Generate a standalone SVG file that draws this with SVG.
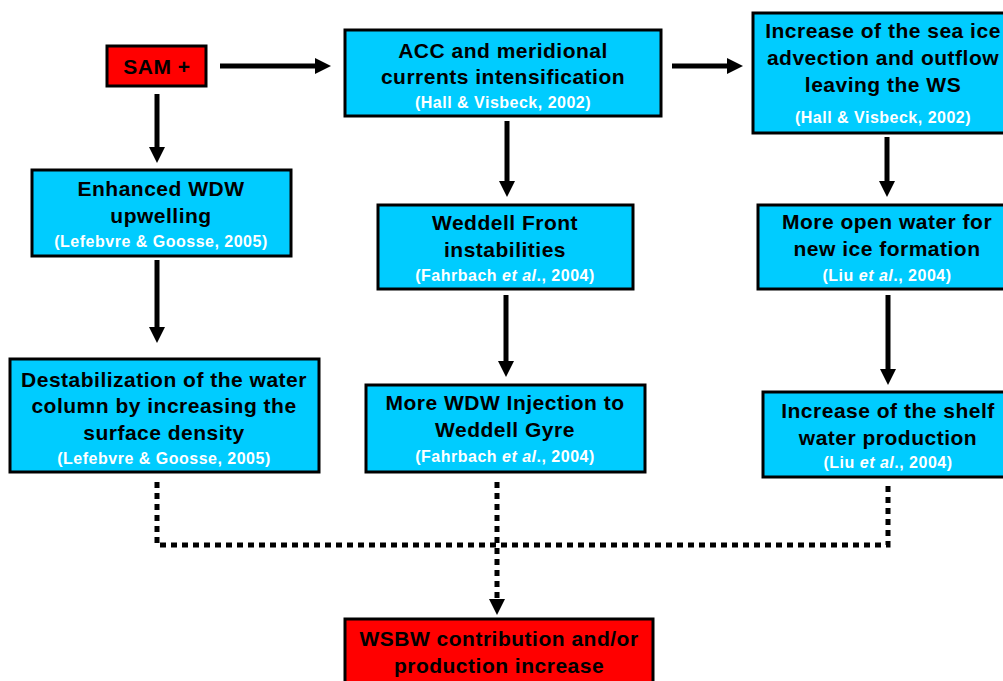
<svg xmlns="http://www.w3.org/2000/svg" width="1003" height="681" viewBox="0 0 1003 681">
<defs>
<marker id="ah" markerUnits="userSpaceOnUse" markerWidth="17" markerHeight="17" refX="1" refY="8" orient="auto">
<path d="M0,0 L16,8 L0,16 z" fill="#000"/>
</marker>
<style>
.box{fill:#00CCFF;stroke:#000;stroke-width:3}
.red{fill:#FF0000;stroke:#000;stroke-width:3}
.t{font-family:"Liberation Sans",Arial,sans-serif;font-weight:bold;font-size:21px;letter-spacing:0.5px;fill:#000;text-anchor:middle}
.c{font-family:"Liberation Sans",Arial,sans-serif;font-weight:bold;font-size:16px;letter-spacing:0.5px;fill:#fff;text-anchor:middle}
.a{fill:none;stroke:#000;stroke-width:5;marker-end:url(#ah)}
.d{fill:none;stroke:#000;stroke-width:5;stroke-dasharray:6 5}
</style>
</defs>
<rect width="1003" height="681" fill="#fff"/>
<g id="connectors">
<line class="a" x1="220" y1="66" x2="316" y2="66"/>
<line class="a" x1="672" y1="66" x2="728" y2="66"/>
<line class="a" x1="157" y1="94" x2="157" y2="148"/>
<line class="a" x1="157" y1="260" x2="157" y2="328"/>
<line class="a" x1="507" y1="121" x2="507" y2="182"/>
<line class="a" x1="506" y1="295" x2="506" y2="362"/>
<line class="a" x1="887" y1="137" x2="887" y2="182"/>
<line class="a" x1="888" y1="295" x2="888" y2="370"/>
<path class="d" d="M157,482 V545 H888 V482"/>
<path class="d" d="M497,482 V600"/>
<path d="M489,599 L505,599 L497,615 z" fill="#000"/>
</g>
<g id="sam">
<rect class="red" x="107" y="46" width="99" height="40"/>
<text class="t" x="157" y="74">SAM +</text>
</g>
<g id="acc">
<rect class="box" x="345" y="30" width="316" height="86"/>
<text class="t" x="503" y="58">ACC and meridional</text>
<text class="t" x="503" y="84">currents intensification</text>
<text class="c" x="503" y="108">(Hall &amp; Visbeck, 2002)</text>
</g>
<g id="seaice">
<rect class="box" x="753" y="13" width="270" height="120"/>
<text class="t" x="883" y="38">Increase of the sea ice</text>
<text class="t" x="883" y="65">advection and outflow</text>
<text class="t" x="883" y="92">leaving the WS</text>
<text class="c" x="883" y="123">(Hall &amp; Visbeck, 2002)</text>
</g>
<g id="enhanced">
<rect class="box" x="32" y="170" width="259" height="86"/>
<text class="t" x="161" y="196">Enhanced WDW</text>
<text class="t" x="161" y="223">upwelling</text>
<text class="c" x="161" y="247">(Lefebvre &amp; Goosse, 2005)</text>
</g>
<g id="weddellfront">
<rect class="box" x="378" y="205" width="255" height="84"/>
<text class="t" x="505" y="230">Weddell Front</text>
<text class="t" x="505" y="257">instabilities</text>
<text class="c" x="505" y="281">(Fahrbach <tspan font-style="italic">et al</tspan>., 2004)</text>
</g>
<g id="openwater">
<rect class="box" x="758" y="205" width="265" height="84"/>
<text class="t" x="887" y="229">More open water for</text>
<text class="t" x="887" y="256">new ice formation</text>
<text class="c" x="887" y="281">(Liu <tspan font-style="italic">et al</tspan>., 2004)</text>
</g>
<g id="destab">
<rect class="box" x="10" y="359" width="309" height="113"/>
<text class="t" x="164" y="387">Destabilization of the water</text>
<text class="t" x="164" y="413">column by increasing the</text>
<text class="t" x="164" y="440">surface density</text>
<text class="c" x="164" y="464">(Lefebvre &amp; Goosse, 2005)</text>
</g>
<g id="injection">
<rect class="box" x="366" y="385" width="279" height="87"/>
<text class="t" x="505" y="410">More WDW Injection to</text>
<text class="t" x="505" y="437">Weddell Gyre</text>
<text class="c" x="505" y="462">(Fahrbach <tspan font-style="italic">et al</tspan>., 2004)</text>
</g>
<g id="shelf">
<rect class="box" x="763" y="392" width="260" height="85"/>
<text class="t" x="888" y="418">Increase of the shelf</text>
<text class="t" x="888" y="445">water production</text>
<text class="c" x="888" y="468">(Liu <tspan font-style="italic">et al</tspan>., 2004)</text>
</g>
<g id="wsbw">
<rect class="red" x="345" y="619" width="308" height="80"/>
<text class="t" x="499" y="646">WSBW contribution and/or</text>
<text class="t" x="499" y="673">production increase</text>
</g>
</svg>
